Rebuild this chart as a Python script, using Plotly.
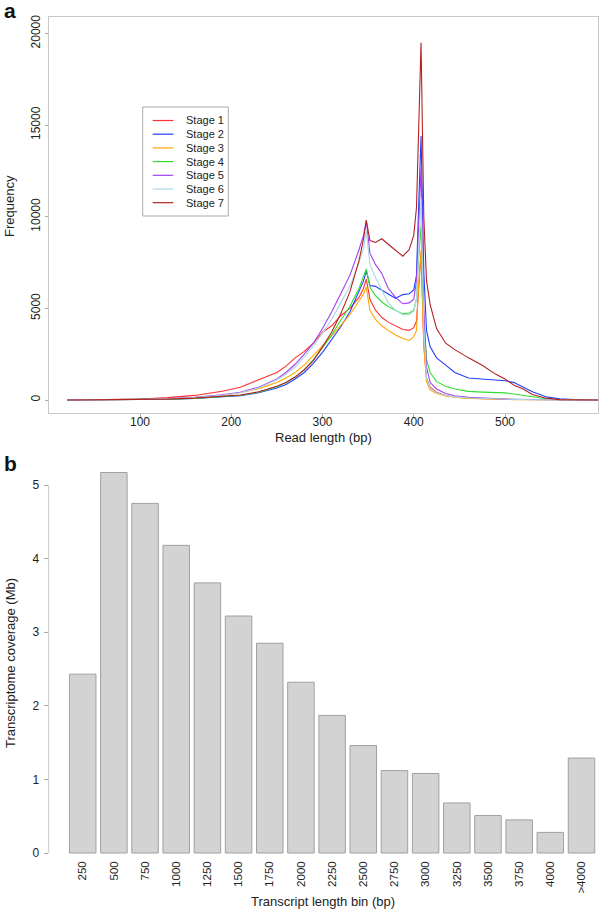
import plotly.graph_objects as go

# ---------------- Panel a data ----------------
read_length = [20, 60, 100, 130, 160, 190, 210, 230, 250, 260, 270, 280, 290, 300, 310, 320,
               330, 340, 345, 348, 352, 358, 365, 372, 380, 388, 395, 400, 403, 405, 408, 411,
               414, 418, 425, 435, 445, 460, 475, 490, 500, 510, 520, 530, 545, 560, 580, 610]

stage1 = [0, 10, 50, 130, 250, 480, 700, 1100, 1500, 1850, 2300, 2650, 3100, 3700, 4050, 4600,
          5000, 5600, 6100, 6600, 5500, 4900, 4500, 4250, 4050, 3850, 3800, 3950, 4300, 6000, 8000, 3000,
          1200, 700, 420, 250, 160, 100, 70, 50, 40, 30, 25, 20, 10, 5, 0, 0]
stage2 = [0, 5, 20, 50, 90, 150, 230, 400, 650, 850, 1150, 1500, 2000, 2600, 3300, 4000,
          4800, 5900, 6500, 7050, 6250, 6200, 6000, 5800, 5550, 5750, 5800, 6000, 6800, 10000, 14400, 7000,
          3800, 2900, 2300, 1900, 1500, 1200, 1130, 1100, 1050, 950, 700, 450, 180, 60, 10, 0]
stage3 = [0, 10, 30, 70, 140, 260, 400, 620, 950, 1200, 1500, 1900, 2400, 2950, 3500, 4050,
          4650, 5400, 5800, 6150, 4900, 4400, 4050, 3800, 3550, 3350, 3250, 3450, 3800, 6000, 8200, 3000,
          1000, 550, 350, 220, 150, 90, 60, 40, 30, 20, 15, 10, 5, 0, 0, 0]
stage4 = [0, 5, 20, 50, 90, 170, 260, 420, 720, 950, 1250, 1650, 2200, 2850, 3550, 4350,
          5100, 6100, 6700, 7150, 6150, 5700, 5350, 5100, 4900, 4700, 4750, 4900, 5500, 7500, 9500, 4500,
          2200, 1500, 1000, 750, 600, 470, 430, 410, 390, 330, 250, 150, 70, 20, 0, 0]
stage5 = [0, 10, 30, 80, 150, 280, 420, 700, 1150, 1500, 1950, 2500, 3100, 3900, 4800, 5800,
          6800, 8200, 9000, 9800, 8000, 7400, 6900, 6100, 5600, 5250, 5300, 5500, 6500, 9000, 12700, 5000,
          1800, 950, 600, 350, 230, 150, 100, 70, 50, 40, 30, 20, 10, 0, 0, 0]
stage6 = [0, 10, 30, 70, 140, 260, 400, 650, 1100, 1400, 1800, 2350, 2950, 3650, 4400, 5300,
          6200, 7500, 8300, 9200, 7400, 6700, 6000, 5300, 4900, 4650, 4650, 4850, 5500, 8000, 11000, 4000,
          1200, 650, 400, 250, 170, 110, 80, 60, 40, 30, 20, 10, 5, 0, 0, 0]
stage7 = [0, 5, 20, 50, 100, 180, 270, 450, 750, 950, 1250, 1650, 2150, 2900, 3700, 4700,
          5900, 7600, 8800, 9800, 8700, 8600, 8800, 8500, 8200, 7850, 8200, 9000, 10500, 14000, 19500, 10000,
          6500, 5200, 3900, 3100, 2750, 2300, 1900, 1400, 1150, 800, 600, 300, 100, 20, 0, 0]

stage_names = ["Stage 1", "Stage 2", "Stage 3", "Stage 4", "Stage 5", "Stage 6", "Stage 7"]
stage_series = [stage1, stage2, stage3, stage4, stage5, stage6, stage7]
stage_colors = ["#FF3030", "#2040FF", "#FFA500", "#30E030", "#A040F0", "#ADD8E6", "#B22222"]

freq_ticks = [0, 5000, 10000, 15000, 20000]
len_ticks = [100, 200, 300, 400, 500]

# ---------------- Panel b data ----------------
bins = ["250", "500", "750", "1000", "1250", "1500", "1750", "2000", "2250",
        "2500", "2750", "3000", "3250", "3500", "3750", "4000", ">4000"]
coverage = [2.43, 5.17, 4.75, 4.18, 3.67, 3.22, 2.85, 2.32, 1.87,
            1.46, 1.12, 1.08, 0.68, 0.51, 0.45, 0.28, 1.29]
cov_ticks = [0, 1, 2, 3, 4, 5]

W, H = 600, 910
FONT = "Liberation Sans, Arial, sans-serif"


def px(x):
    return x / W


def py(y):
    return 1 - y / H


fig = go.Figure()

for name, vals, col in zip(stage_names, stage_series, stage_colors):
    fig.add_trace(go.Scatter(x=read_length, y=vals, mode="lines", name=name,
                             line=dict(color=col, width=1.1), showlegend=False,
                             xaxis="x", yaxis="y"))

fig.add_trace(go.Bar(x=bins, y=coverage, marker=dict(color="#D3D3D3",
                     line=dict(color="#A0A0A0", width=1)), width=0.85,
                     showlegend=False, xaxis="x2", yaxis="y2"))

# top panel: px 49..598 x, 17..413 y ; 0->400px, 20000->33.5px
top_scale = (400 - 33.5) / 20000.0
y_top = (400 - 17) / top_scale
y_bot = (400 - 413) / top_scale
x_scale = (505 - 140) / 400.0
x_left = 100 - (140 - 49) / x_scale
x_right = 500 + (598 - 505) / x_scale

# bottom panel: 0 -> 853px, 5 -> 485px; bar i center 82.7 + 31.175 i
b_scale = (853 - 485) / 5.0
b_dom_top, b_dom_bot = 465, 858
b_y_top = (853 - b_dom_top) / b_scale
b_y_bot = (853 - b_dom_bot) / b_scale
bar_step = 31.175
b_x_left = (48.7 - 82.7) / bar_step
b_x_right = (598 - 82.7) / bar_step

axis_common = dict(showgrid=False, zeroline=False, automargin=False,
                   tickfont=dict(family=FONT, size=12, color="#222"))

fig.update_layout(
    width=W, height=H, autosize=False,
    margin=dict(l=0, r=0, t=0, b=0),
    paper_bgcolor="white", plot_bgcolor="white",
    font=dict(family=FONT, color="#222"),
    xaxis=dict(domain=[px(49), px(598)], range=[x_left, x_right], anchor="y",
               tickvals=len_ticks, ticktext=[str(v) for v in len_ticks],
               ticks="outside", ticklen=3, tickcolor="#AAAAAA", ticklabelstandoff=-5,
               showline=True, linecolor="#C8C8C8", linewidth=1, mirror=True,
               **axis_common),
    yaxis=dict(domain=[py(413), py(17)], range=[y_bot, y_top], anchor="x",
               tickvals=freq_ticks, ticktext=[str(v) for v in freq_ticks],
               ticks="outside", ticklen=3, tickcolor="#AAAAAA",
               tickangle=-90,
               showline=True, linecolor="#C8C8C8", linewidth=1, mirror=True,
               **axis_common),
    xaxis2=dict(domain=[px(48.7), px(598)], range=[b_x_left, b_x_right], anchor="y2",
                type="category", tickangle=-90, ticks="", showline=False,
                showgrid=False, zeroline=False, automargin=False,
                tickfont=dict(family=FONT, size=11.5, color="#222")),
    yaxis2=dict(domain=[py(b_dom_bot), py(b_dom_top)], range=[b_y_bot, b_y_top], anchor="x2",
                tickvals=cov_ticks, ticktext=[str(v) for v in cov_ticks],
                ticks="outside", ticklen=4, tickcolor="#AAAAAA", ticklabelstandoff=2,
                showline=False, **axis_common),
)

# bottom panel y-axis line spanning tick range only (R style)
fig.add_shape(type="line", xref="x2 domain", yref="y2", x0=0, x1=0,
              y0=cov_ticks[0], y1=cov_ticks[-1], line=dict(color="#C8C8C8", width=1))

ann = [
    dict(text="Frequency", x=px(10), y=py(206), textangle=-90, size=13),
    dict(text="Read length (bp)", x=px(323), y=py(437), textangle=0, size=13),
    dict(text="Transcriptome coverage (Mb)", x=px(10), y=py(663), textangle=-90, size=13),
    dict(text="Transcript length bin (bp)", x=px(323), y=py(901), textangle=0, size=13),
]
for a in ann:
    fig.add_annotation(text=a["text"], x=a["x"], y=a["y"], xref="paper", yref="paper",
                       textangle=a["textangle"], showarrow=False, xanchor="center",
                       yanchor="middle", font=dict(family=FONT, size=a["size"], color="#222"))

for letter, ypx in [("a", 11), ("b", 463)]:
    fig.add_annotation(text="<b>%s</b>" % letter, x=px(2), y=py(ypx), xref="paper", yref="paper",
                       showarrow=False, xanchor="left", yanchor="middle",
                       font=dict(family=FONT, size=21, color="#111"))

# manual legend box (R-style compact legend)
leg_left, leg_right, leg_top, leg_bottom = 142.7, 228.3, 107, 216
fig.add_shape(type="rect", xref="paper", yref="paper",
              x0=px(leg_left), x1=px(leg_right), y0=py(leg_bottom), y1=py(leg_top),
              line=dict(color="#AAAAAA", width=1), fillcolor="white")
row0, row_step = 120.5, 13.7
for i, (name, col) in enumerate(zip(stage_names, stage_colors)):
    yy = row0 + row_step * i
    fig.add_shape(type="line", xref="paper", yref="paper",
                  x0=px(152.7), x1=px(173.3), y0=py(yy), y1=py(yy),
                  line=dict(color=col, width=1.2))
    fig.add_annotation(text=name, x=px(184), y=py(yy), xref="paper", yref="paper",
                       showarrow=False, xanchor="left", yanchor="middle",
                       font=dict(family=FONT, size=11, color="#222"))

fig.write_html("out.html", config={"displayModeBar": False},
               post_script="document.body.style.margin='0';document.body.style.padding='0';")
